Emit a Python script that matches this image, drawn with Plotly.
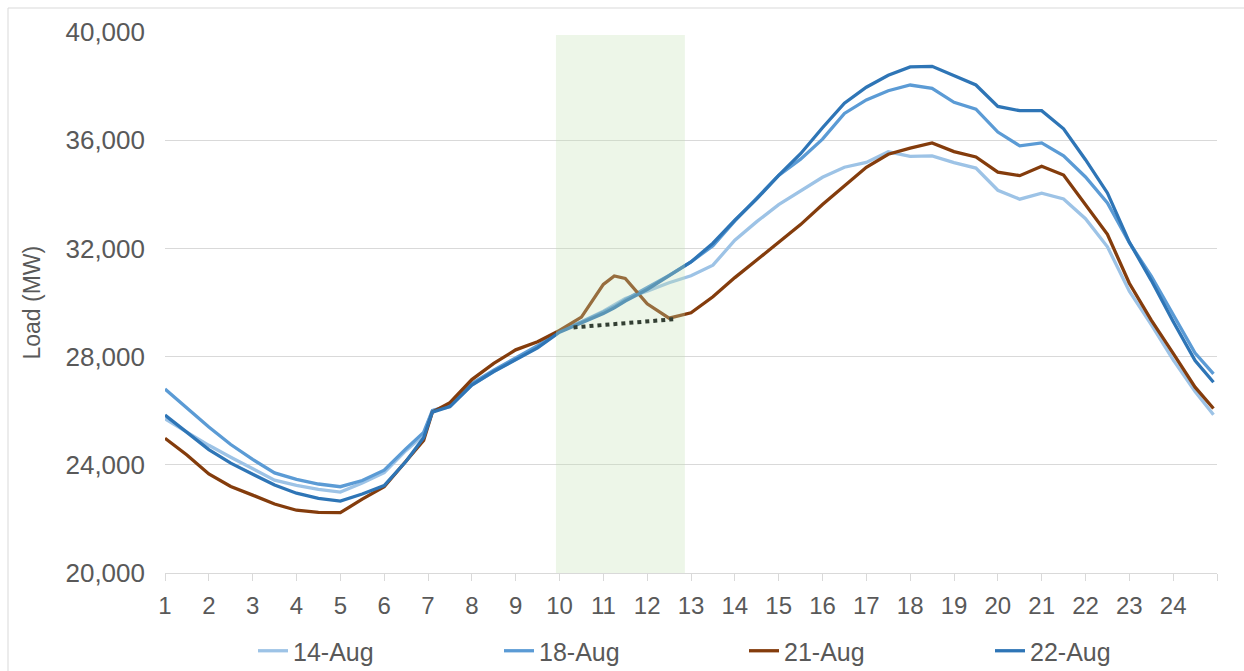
import plotly.graph_objects as go

# ---- data (hour of day, MW) ----
hours = [1, 1.5, 2, 2.5, 3, 3.5, 4, 4.5, 5, 5.5, 6, 6.5, 6.9, 7.1, 7.5, 8, 8.5, 9, 9.5, 10,
         10.5, 11, 11.25, 11.5, 12, 12.5, 13, 13.5, 14, 14.5, 15, 15.5, 16, 16.5, 17, 17.5,
         18, 18.5, 19, 19.5, 20, 20.5, 21, 21.5, 22, 22.5, 23, 23.5, 24, 24.5, 24.92]

aug14 = [25700, 25220, 24720, 24280, 23840, 23430, 23240, 23090, 22990, 23330, 23710, 24530,
         25100, 26000, 26150, 26950, 27450, 27900, 28350, 28950, 29290, 29680, 29900, 30150,
         30420, 30730, 30990, 31380, 32300, 32990, 33620, 34110, 34630, 35000, 35180, 35570,
         35400, 35420, 35170, 34970, 34150, 33820, 34040, 33830, 33100, 32060, 30420, 29180,
         27880, 26710, 25850]

aug18 = [26800, 26100, 25400, 24750, 24200, 23700, 23460, 23290, 23190, 23420, 23800, 24600,
         25200, 26000, 26200, 27000, 27500, 27950, 28400, 28950, 29280, 29650, 29850, 30100,
         30550, 31000, 31500, 32100, 33020, 33870, 34700, 35300, 36040, 36990, 37490, 37830,
         38040, 37920, 37400, 37150, 36300, 35790, 35900, 35420, 34640, 33680, 32210, 30980,
         29550, 28130, 27360]

aug21 = [24980, 24360, 23660, 23200, 22880, 22550, 22320, 22240, 22230, 22730, 23190, 24130,
         24900, 25950, 26300, 27150, 27750, 28250, 28550, 28970, 29460, 30670, 30980, 30890,
         29950, 29420, 29620, 30210, 30920, 31570, 32230, 32880, 33620, 34300, 35000, 35480,
         35710, 35900, 35580, 35380, 34820, 34690, 35040, 34710, 33640, 32520, 30710, 29350,
         28120, 26870, 26080]

aug22 = [25840, 25200, 24560, 24060, 23660, 23250, 22950, 22760, 22660, 22920, 23230, 24130,
         25000, 25950, 26150, 26950, 27450, 27880, 28320, 28900, 29240, 29590, 29800, 30050,
         30480, 30980, 31500, 32190, 33040, 33830, 34700, 35500, 36460, 37370, 37960, 38400,
         38710, 38730, 38400, 38040, 37250, 37090, 37090, 36420, 35280, 34050, 32230, 30820,
         29300, 27850, 27050]

series_names = ["14-Aug", "18-Aug", "21-Aug", "22-Aug"]
series_values = [aug14, aug18, aug21, aug22]
series_colors = ["#9DC3E6", "#5B9BD5", "#843C0C", "#2E75B6"]

# highlighted window and baseline estimate
window_x = [9.92, 12.86]
window_y = [20000, 39890]
baseline_x = [10.32, 12.6]
baseline_y = [29080, 29380]

x_ticks = list(range(1, 26))
x_ticktext = [str(i) for i in range(1, 25)] + [""]

FONT = "Liberation Sans, Arial, sans-serif"
GREY = "#595959"

# plot-area geometry in pixels (figure is a bit taller than the window so the
# legend box fits without shrinking the plot; the overflow is hidden)
L, R, T, B = 165, 1217, 32, 573
W, H = 1244, 700
PW, PH = R - L, B - T


def px_x(p):
    return (p - L) / PW


def px_y(p):
    return (B - p) / PH


legend_ids = ["legend", "legend2", "legend3", "legend4"]
legend_left_px = [253, 499, 744, 990]

fig = go.Figure()
for name, vals, col, lid in zip(series_names, series_values, series_colors, legend_ids):
    fig.add_trace(go.Scatter(x=hours, y=vals, mode="lines", name=name, legend=lid,
                             line=dict(color=col, width=3.3)))

fig.add_shape(type="rect", xref="x", yref="y",
              x0=window_x[0], x1=window_x[1], y0=window_y[0], y1=window_y[1],
              fillcolor="#C5E0B4", opacity=0.3, line=dict(width=0), layer="above")
fig.add_shape(type="line", xref="x", yref="y",
              x0=baseline_x[0], x1=baseline_x[1], y0=baseline_y[0], y1=baseline_y[1],
              line=dict(color="#333F33", width=4, dash="dot"), layer="above")
# chart-area border
fig.add_shape(type="rect", xref="paper", yref="paper",
              x0=px_x(8), x1=px_x(1260), y0=px_y(690), y1=px_y(8),
              line=dict(color="#D9D9D9", width=1), fillcolor="rgba(0,0,0,0)", layer="below")

fig.add_annotation(text="Load (MW)", xref="paper", yref="paper",
                   x=px_x(31), y=0.5, xanchor="center", yanchor="middle",
                   textangle=-90, showarrow=False,
                   font=dict(size=23, color=GREY, family=FONT))

legend_common = dict(orientation="h", xanchor="left", y=px_y(651), yanchor="middle",
                     font=dict(size=25, color=GREY, family=FONT),
                     bgcolor="rgba(0,0,0,0)", borderwidth=0)
legends = {lid: dict(legend_common, x=px_x(lx))
           for lid, lx in zip(legend_ids, legend_left_px)}

fig.update_layout(
    width=W, height=H,
    margin=dict(l=L, r=W - R, t=T, b=H - B, pad=0),
    paper_bgcolor="white", plot_bgcolor="white",
    font=dict(family=FONT, color=GREY),
    showlegend=True,
    **legends,
)
fig.update_xaxes(range=[1, 25], tickvals=x_ticks, ticktext=x_ticktext,
                 ticks="outside", ticklen=7, tickcolor="#D9D9D9", tickwidth=1,
                 showline=True, linecolor="#D9D9D9", linewidth=1.3,
                 showgrid=False, zeroline=False, automargin=False,
                 tickfont=dict(size=24, color=GREY, family=FONT),
                 ticklabelstandoff=4)
fig.update_yaxes(range=[20000, 40000], dtick=4000, tick0=20000, tickformat=",",
                 showgrid=True, gridcolor="#D9D9D9", gridwidth=1.3,
                 showline=False, zeroline=False, ticks="", automargin=False,
                 tickfont=dict(size=26, color=GREY, family=FONT),
                 ticklabelstandoff=19)

fig.write_html(
    "out.html", config={"displayModeBar": False},
    post_script=("document.body.style.margin='0';document.body.style.padding='0';"
                 "document.body.style.overflow='hidden';"
                 "document.documentElement.style.overflow='hidden';"))
